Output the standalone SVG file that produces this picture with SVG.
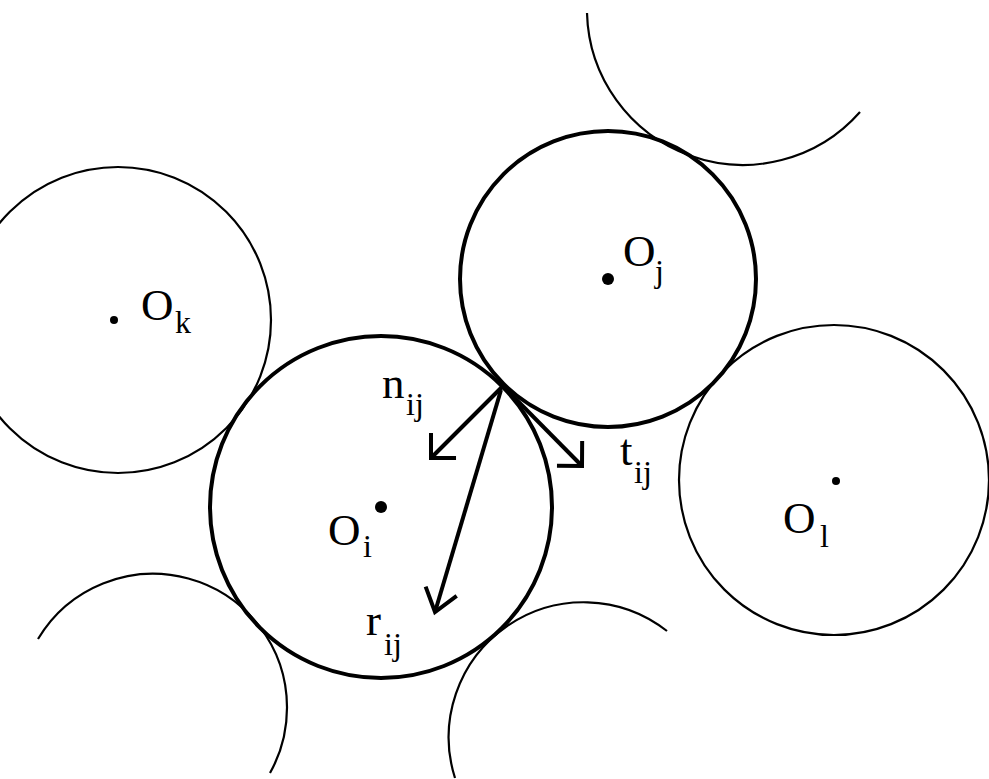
<svg xmlns="http://www.w3.org/2000/svg" width="989" height="779" viewBox="0 0 989 779">
<style>
.thick{fill:none;stroke:#000;stroke-width:4}
.thin{fill:none;stroke:#000;stroke-width:2.2}
.arrow{fill:none;stroke:#000;stroke-width:4}
.lbl{font-family:"Liberation Serif","Times New Roman",serif;font-size:45px;fill:#000}
.sub{font-size:32px}
</style>
<defs>
<marker id="hd45" markerUnits="userSpaceOnUse" viewBox="-30 -30 40 60" markerWidth="40" markerHeight="60" refX="0" refY="0" orient="auto" overflow="visible">
<path d="M-17.7,-17.7 L0,0 L-17.7,17.7" fill="none" stroke="#000" stroke-width="4" stroke-linejoin="miter"/>
</marker>
<marker id="hd37" markerUnits="userSpaceOnUse" viewBox="-30 -30 40 60" markerWidth="40" markerHeight="60" refX="0" refY="0" orient="auto" overflow="visible">
<path d="M-21.6,-16.2 L0,0 L-21.6,16.2" fill="none" stroke="#000" stroke-width="4" stroke-linejoin="miter"/>
</marker>
</defs>
<rect width="989" height="779" fill="#fff"/>
<g id="node-k">
<circle class="thin" cx="118" cy="320" r="153"/>
<circle cx="114" cy="320" r="4"/>
<text class="lbl" x="141" y="320">O<tspan class="sub" x="175" y="333">k</tspan></text>
</g>
<g id="node-l">
<circle class="thin" cx="834" cy="480" r="155"/>
<circle cx="836" cy="481" r="4"/>
<text class="lbl" x="783" y="533">O<tspan class="sub" x="820" y="547">l</tspan></text>
</g>
<g id="arc-top">
<path class="thin" d="M587,13 A156,156 0 0 0 860,112"/>
</g>
<g id="arc-bottom-left">
<path class="thin" d="M38,639 A134,134 0 0 1 287,707 A134,134 0 0 1 270,773"/>
</g>
<g id="arc-bottom-right">
<path class="thin" d="M455,778 A135,135 0 0 1 667,631"/>
</g>
<g id="node-i">
<circle class="thick" cx="381" cy="507" r="171"/>
<circle cx="381" cy="507" r="6"/>
<text class="lbl" x="328" y="545">O<tspan class="sub" x="363" y="557">i</tspan></text>
</g>
<g id="node-j">
<circle class="thick" cx="608" cy="279" r="148"/>
<circle cx="608" cy="279" r="6"/>
<text class="lbl" x="623" y="266">O<tspan class="sub" x="655" y="282">j</tspan></text>
</g>
<g id="connectors">
<line class="arrow" x1="503" y1="386" x2="431" y2="458" marker-end="url(#hd45)"/>
<line class="arrow" x1="503" y1="386" x2="582" y2="466" marker-end="url(#hd45)"/>
<line class="arrow" x1="501" y1="390" x2="435" y2="612" marker-end="url(#hd37)"/>
</g>
<g id="labels">
<text class="lbl" x="382" y="398">n<tspan class="sub" x="406" y="415">ij</tspan></text>
<text class="lbl" x="620" y="465">t<tspan class="sub" x="634" y="483">ij</tspan></text>
<text class="lbl" x="366" y="635">r<tspan class="sub" x="384" y="655">ij</tspan></text>
</g>
</svg>
